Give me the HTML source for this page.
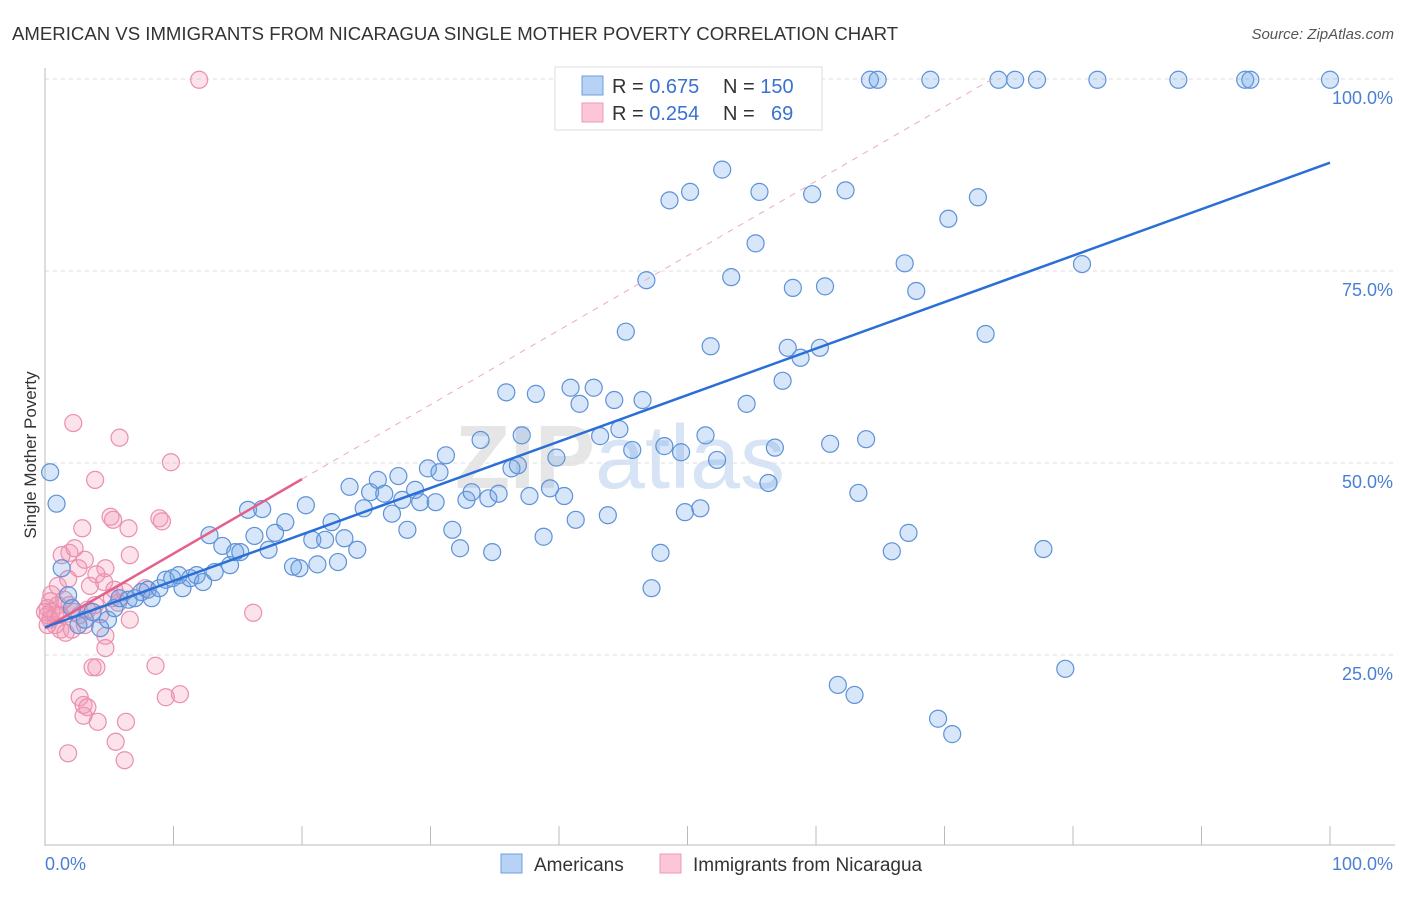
<!DOCTYPE html>
<html><head><meta charset="utf-8"><style>
body{margin:0;background:#fff;font-family:"Liberation Sans",sans-serif;}
svg text{font-family:"Liberation Sans",sans-serif;}
</style></head><body>
<svg id="chart" width="1406" height="892" xmlns="http://www.w3.org/2000/svg">
<text x="12" y="40" font-size="18.6" fill="#333">AMERICAN VS IMMIGRANTS FROM NICARAGUA SINGLE MOTHER POVERTY CORRELATION CHART</text>
<text x="1394" y="39" font-size="15" fill="#555" font-style="italic" text-anchor="end">Source: ZipAtlas.com</text>
<text x="620" y="488" font-size="90" fill="#e6e6e6" font-weight="bold" text-anchor="middle">ZIP<tspan fill="#d6e4f5" font-weight="normal">atlas</tspan></text>
<g id="grid"></g>
<g id="axes"></g>
<g id="pts"></g>
<g id="trend"></g>
<text x="36" y="455" font-size="17" fill="#333" text-anchor="middle" transform="rotate(-90 36 455)">Single Mother Poverty</text>
<text x="45" y="870" font-size="18" fill="#4a7fd4">0.0%</text>
<text x="1393" y="870" font-size="18" fill="#4a7fd4" text-anchor="end">100.0%</text>
<g>
<rect x="555" y="67" width="267" height="63" fill="#fff" stroke="#ddd"/>
<rect x="582" y="76" width="21" height="19" fill="#b7d2f4" stroke="#6e9ee0"/>
<rect x="582" y="103" width="21" height="19" fill="#fcc6d6" stroke="#ec9ab4"/>
<text x="612" y="93" font-size="20" fill="#333">R = <tspan fill="#3a72d0">0.675</tspan></text>
<text x="723" y="93" font-size="20" fill="#333">N = <tspan fill="#3a72d0">150</tspan></text>
<text x="612" y="120" font-size="20" fill="#333">R = <tspan fill="#3a72d0">0.254</tspan></text>
<text x="723" y="120" font-size="20" fill="#333">N =</text>
<text x="771" y="120" font-size="20" fill="#3a72d0">69</text>
</g>
<g>
<rect x="501" y="854" width="21" height="19" fill="#b7d2f4" stroke="#6e9ee0"/>
<text x="534" y="871" font-size="19" fill="#333">Americans</text>
<rect x="660" y="854" width="21" height="19" fill="#fcc6d6" stroke="#ec9ab4"/>
<text x="693" y="871" font-size="19" fill="#333">Immigrants from Nicaragua</text>
</g>
</svg>
<script>
const yTicks=[25,50,75,100];
const yTickLabels=["25.0%","50.0%","75.0%","100.0%"];
const americansX=[0.4,0.9,1.3,1.8,2.1,2.6,3.1,3.7,4.3,4.9,5.4,5.8,6.5,7.0,7.5,8.0,8.3,8.9,9.4,9.9,10.4,10.7,11.3,11.8,12.3,12.8,13.2,13.8,14.4,14.8,15.2,15.8,16.3,16.9,17.4,17.9,18.7,19.3,19.8,20.3,20.8,21.2,21.8,22.3,22.8,23.3,23.7,24.3,24.8,25.3,25.9,26.4,27.0,27.5,27.8,28.2,28.8,29.2,29.8,30.4,30.7,31.2,31.7,32.3,32.8,33.2,33.9,34.5,34.8,35.3,35.9,36.3,36.8,37.1,37.7,38.2,38.8,39.3,39.8,40.4,40.9,41.3,41.6,42.7,43.2,43.8,44.3,44.7,45.2,45.7,46.5,46.8,47.2,47.9,48.2,48.6,49.5,49.8,50.2,51.0,51.4,51.8,52.3,52.7,53.4,54.1,54.6,55.3,55.6,56.3,56.8,57.4,57.8,58.2,58.8,59.7,60.3,60.7,61.1,61.7,62.3,63.0,63.3,63.9,64.2,64.8,65.9,66.9,67.2,67.8,68.9,69.5,70.3,70.6,72.6,73.2,74.2,75.5,77.2,77.7,79.4,80.7,81.9,88.2,93.4,93.8,100];
const americansY=[48.8,44.7,36.3,32.8,31.1,28.9,29.6,30.6,28.5,29.6,31.1,32.4,32.2,32.4,33.2,33.5,32.4,33.7,34.8,35.0,35.4,33.7,35.0,35.4,34.5,40.6,35.8,39.2,36.7,38.4,38.4,43.9,40.5,44.0,38.7,40.9,42.3,36.5,36.3,44.5,40.0,36.8,40.0,42.3,37.1,40.2,46.9,38.7,44.1,46.2,47.8,46.0,43.4,48.3,45.2,41.3,46.5,44.9,49.3,44.9,48.8,51.0,41.3,38.9,45.2,46.2,53.0,45.4,38.4,46.0,59.2,49.3,49.7,53.6,45.7,59.0,40.4,46.7,50.7,45.7,59.8,42.6,57.7,59.8,53.5,43.2,58.2,54.4,67.1,51.7,58.2,73.8,33.7,38.3,52.2,84.2,51.4,43.6,85.3,44.1,53.6,65.2,50.4,88.2,74.2,99.9,57.7,78.6,85.3,47.4,52.0,60.7,65.0,72.8,63.7,85.0,65.0,73.0,52.5,21.1,85.5,19.8,46.1,53.1,99.9,99.9,38.5,76.0,40.9,72.4,99.9,16.7,81.8,14.7,84.6,66.8,99.9,99.9,99.9,38.8,23.2,75.9,99.9,99.9,99.9,99.9,99.9];
const nicaraguaX=[12.0,2.2,5.8,9.8,3.9,5.1,5.3,8.9,9.1,2.9,6.5,1.9,6.6,1.3,2.3,3.1,4.7,4.6,2.6,4.0,1.8,3.5,1.0,0.5,0.4,0.2,0.2,0.4,0.8,1.2,1.6,0.5,1.0,1.5,1.9,2.3,2.7,3.3,3.9,4.3,4.7,5.2,5.4,5.7,6.2,6.6,7.8,16.2,4.7,3.7,4.0,8.6,2.7,10.5,9.4,3.0,3.3,3.0,4.1,6.3,5.5,1.8,6.2,0.8,0,0.2,1.2,2.1,3.1];
const nicaraguaY=[99.9,55.2,53.3,50.1,47.8,43.0,42.6,42.8,42.4,41.5,41.5,38.3,38.0,38.0,38.9,37.4,36.3,34.5,36.3,35.5,34.9,34.0,34.0,32.9,32.0,31.1,30.2,29.6,28.9,28.3,27.9,30.6,31.5,32.2,31.5,30.6,30.2,30.9,31.5,30.3,27.5,32.4,33.5,31.8,33.2,29.6,33.7,30.5,25.9,23.4,23.4,23.6,19.5,19.9,19.5,18.5,18.2,17.1,16.3,16.3,13.7,12.2,11.3,30.2,30.6,28.9,30.2,28.3,28.9];
const americansTrend=[28.6,89.1];
const nicaraguaTrend=[28.5,47.9];
const nicaraguaTrendEnd=20;

const NS="http://www.w3.org/2000/svg";
const X0=45,X1=1330,Y0=847,Y100=79;
const sx=v=>X0+(X1-X0)*v/100;
const sy=v=>Y0-(Y0-Y100)*v/100;
function mk(tag,attrs,parent){const e=document.createElementNS(NS,tag);for(const k in attrs)e.setAttribute(k,attrs[k]);parent.appendChild(e);return e;}
const grid=document.getElementById('grid'),axes=document.getElementById('axes'),pts=document.getElementById('pts'),trend=document.getElementById('trend');
yTicks.forEach((t,i)=>{
 const l=mk('line',{x1:X0,x2:1395,y1:sy(t),y2:sy(t),stroke:'#ddd','stroke-dasharray':'4,4'},grid);
 
 
 const tx=mk('text',{x:1393,y:sy(t)+25,'font-size':18,fill:'#4a7fd4','text-anchor':'end'},grid);
 tx.textContent=yTickLabels[i];
 
 
});
mk('line',{x1:X0,x2:X0,y1:68,y2:846,stroke:'#bbb'},axes);
mk('line',{x1:X0,x2:1395,y1:845,y2:845,stroke:'#bbb'},axes);
for(let i=1;i<=10;i++){mk('line',{x1:sx(i*10),x2:sx(i*10),y1:826,y2:845,stroke:'#bbb'},axes);}
function dots(xs,ys,fill,stroke,name){
 xs.forEach((x,i)=>{
  const c=mk('circle',{cx:sx(x),cy:sy(ys[i]),r:8.5,fill:fill,stroke:stroke,'stroke-width':1.2},pts);
  
  
 });
}
dots(nicaraguaX,nicaraguaY,'rgba(244,150,180,0.28)','#ea8fae','nicaragua-point');
dots(americansX,americansY,'rgba(110,165,230,0.28)','#5e92d8','americans-point');
const slope=(nicaraguaTrend[1]-nicaraguaTrend[0])/nicaraguaTrendEnd;
const xEnd=(100-nicaraguaTrend[0])/slope;
const dl=mk('line',{x1:sx(nicaraguaTrendEnd),y1:sy(nicaraguaTrend[1]),x2:sx(xEnd),y2:sy(100),stroke:'#eeaabf','stroke-dasharray':'6,6','stroke-width':1},trend);


const pl=mk('line',{x1:sx(0),y1:sy(nicaraguaTrend[0]),x2:sx(nicaraguaTrendEnd),y2:sy(nicaraguaTrend[1]),stroke:'#e4608a','stroke-width':2.5},trend);


const bl=mk('line',{x1:sx(0),y1:sy(americansTrend[0]),x2:sx(100),y2:sy(americansTrend[1]),stroke:'#2a6fd6','stroke-width':2.5},trend);


</script>
</body></html>
